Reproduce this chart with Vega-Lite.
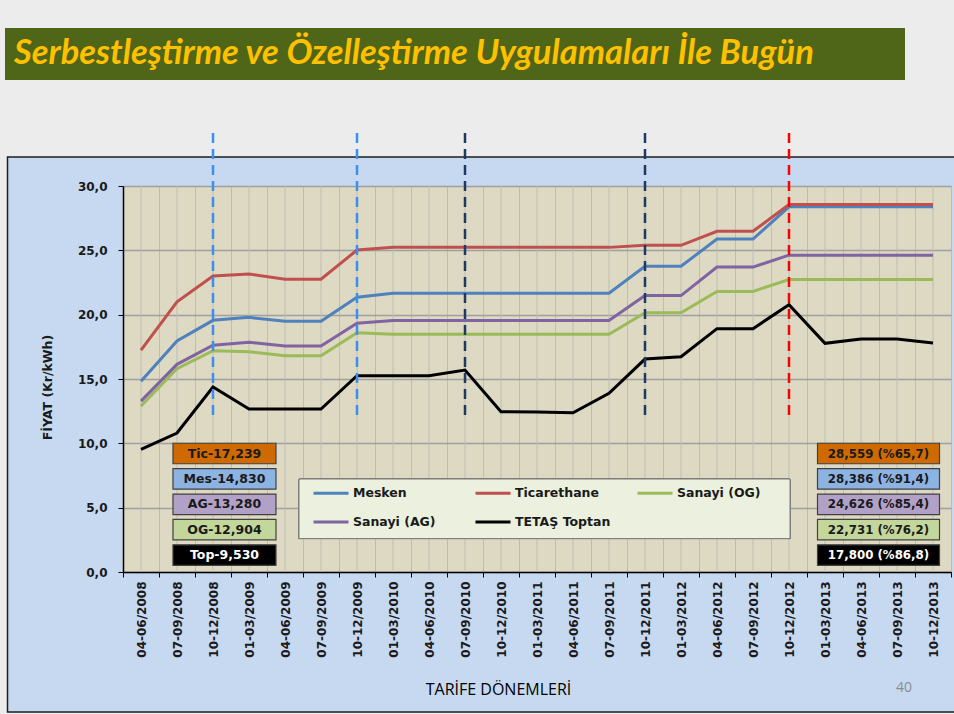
{
  "$schema": "https://vega.github.io/schema/vega-lite/v6.json",
  "width": 828,
  "height": 386,
  "autosize": {"type": "none"},
  "padding": {"left": 123, "top": 186, "right": 3, "bottom": 142},
  "background": "#c6d9f1",
  "config": {
    "view": {"fill": "#ddd9c3", "stroke": "#a6a6a6", "strokeWidth": 1}
  },
  "datasets": {
    "prices": [
      {"period": "04-06/2008", "Mesken": 14.83, "Ticarethane": 17.239, "Sanayi (OG)": 12.904, "Sanayi (AG)": 13.28, "TETAŞ Toptan": 9.53},
      {"period": "07-09/2008", "Mesken": 17.95, "Ticarethane": 21.0, "Sanayi (OG)": 15.8, "Sanayi (AG)": 16.14, "TETAŞ Toptan": 10.8},
      {"period": "10-12/2008", "Mesken": 19.56, "Ticarethane": 23.0, "Sanayi (OG)": 17.2, "Sanayi (AG)": 17.62, "TETAŞ Toptan": 14.38},
      {"period": "01-03/2009", "Mesken": 19.79, "Ticarethane": 23.16, "Sanayi (OG)": 17.12, "Sanayi (AG)": 17.85, "TETAŞ Toptan": 12.67},
      {"period": "04-06/2009", "Mesken": 19.48, "Ticarethane": 22.75, "Sanayi (OG)": 16.81, "Sanayi (AG)": 17.56, "TETAŞ Toptan": 12.67},
      {"period": "07-09/2009", "Mesken": 19.48, "Ticarethane": 22.75, "Sanayi (OG)": 16.81, "Sanayi (AG)": 17.56, "TETAŞ Toptan": 12.67},
      {"period": "10-12/2009", "Mesken": 21.35, "Ticarethane": 25.02, "Sanayi (OG)": 18.6, "Sanayi (AG)": 19.33, "TETAŞ Toptan": 15.26},
      {"period": "01-03/2010", "Mesken": 21.66, "Ticarethane": 25.23, "Sanayi (OG)": 18.47, "Sanayi (AG)": 19.55, "TETAŞ Toptan": 15.26},
      {"period": "04-06/2010", "Mesken": 21.66, "Ticarethane": 25.23, "Sanayi (OG)": 18.47, "Sanayi (AG)": 19.55, "TETAŞ Toptan": 15.26},
      {"period": "07-09/2010", "Mesken": 21.66, "Ticarethane": 25.23, "Sanayi (OG)": 18.47, "Sanayi (AG)": 19.55, "TETAŞ Toptan": 15.7},
      {"period": "10-12/2010", "Mesken": 21.66, "Ticarethane": 25.23, "Sanayi (OG)": 18.47, "Sanayi (AG)": 19.55, "TETAŞ Toptan": 12.46},
      {"period": "01-03/2011", "Mesken": 21.66, "Ticarethane": 25.23, "Sanayi (OG)": 18.47, "Sanayi (AG)": 19.55, "TETAŞ Toptan": 12.44},
      {"period": "04-06/2011", "Mesken": 21.66, "Ticarethane": 25.23, "Sanayi (OG)": 18.47, "Sanayi (AG)": 19.55, "TETAŞ Toptan": 12.38},
      {"period": "07-09/2011", "Mesken": 21.66, "Ticarethane": 25.23, "Sanayi (OG)": 18.47, "Sanayi (AG)": 19.55, "TETAŞ Toptan": 13.89},
      {"period": "10-12/2011", "Mesken": 23.76, "Ticarethane": 25.39, "Sanayi (OG)": 20.15, "Sanayi (AG)": 21.48, "TETAŞ Toptan": 16.55},
      {"period": "01-03/2012", "Mesken": 23.76, "Ticarethane": 25.39, "Sanayi (OG)": 20.15, "Sanayi (AG)": 21.48, "TETAŞ Toptan": 16.73},
      {"period": "04-06/2012", "Mesken": 25.88, "Ticarethane": 26.48, "Sanayi (OG)": 21.81, "Sanayi (AG)": 23.7, "TETAŞ Toptan": 18.91},
      {"period": "07-09/2012", "Mesken": 25.88, "Ticarethane": 26.48, "Sanayi (OG)": 21.81, "Sanayi (AG)": 23.7, "TETAŞ Toptan": 18.91},
      {"period": "10-12/2012", "Mesken": 28.386, "Ticarethane": 28.559, "Sanayi (OG)": 22.731, "Sanayi (AG)": 24.626, "TETAŞ Toptan": 20.78},
      {"period": "01-03/2013", "Mesken": 28.386, "Ticarethane": 28.559, "Sanayi (OG)": 22.731, "Sanayi (AG)": 24.626, "TETAŞ Toptan": 17.77},
      {"period": "04-06/2013", "Mesken": 28.386, "Ticarethane": 28.559, "Sanayi (OG)": 22.731, "Sanayi (AG)": 24.626, "TETAŞ Toptan": 18.11},
      {"period": "07-09/2013", "Mesken": 28.386, "Ticarethane": 28.559, "Sanayi (OG)": 22.731, "Sanayi (AG)": 24.626, "TETAŞ Toptan": 18.11},
      {"period": "10-12/2013", "Mesken": 28.386, "Ticarethane": 28.559, "Sanayi (OG)": 22.731, "Sanayi (AG)": 24.626, "TETAŞ Toptan": 17.8}
    ],
    "dashes": [
      {"period": "10-12/2008", "kind": "a"},
      {"period": "10-12/2009", "kind": "a"},
      {"period": "07-09/2010", "kind": "b"},
      {"period": "10-12/2011", "kind": "b"},
      {"period": "10-12/2012", "kind": "c"}
    ],
    "boxes": [
      {"label": "Tic-17,239", "series": "Ticarethane", "rank": 0, "side": "left"},
      {"label": "Mes-14,830", "series": "Mesken", "rank": 1, "side": "left"},
      {"label": "AG-13,280", "series": "Sanayi (AG)", "rank": 2, "side": "left"},
      {"label": "OG-12,904", "series": "Sanayi (OG)", "rank": 3, "side": "left"},
      {"label": "Top-9,530", "series": "TETAŞ Toptan", "rank": 4, "side": "left"},
      {"label": "28,559 (%65,7)", "series": "Ticarethane", "rank": 0, "side": "right"},
      {"label": "28,386 (%91,4)", "series": "Mesken", "rank": 1, "side": "right"},
      {"label": "24,626 (%85,4)", "series": "Sanayi (AG)", "rank": 2, "side": "right"},
      {"label": "22,731 (%76,2)", "series": "Sanayi (OG)", "rank": 3, "side": "right"},
      {"label": "17,800 (%86,8)", "series": "TETAŞ Toptan", "rank": 4, "side": "right"}
    ],
    "slide": [
      {"title": "Serbestleştirme ve Özelleştirme Uygulamaları İle Bugün", "page": "40"}
    ]
  },
  "layer": [
    {
      "data": {"name": "slide"},
      "layer": [
        {
          "mark": {"type": "rect", "fill": "#ececec"},
          "encoding": {
            "x": {"datum": -4.06, "type": "quantitative", "scale": {"domain": [-0.5, 22.5], "nice": false, "zero": false}, "axis": null},
            "x2": {"datum": 22.75},
            "y": {"datum": 32.254, "type": "quantitative", "scale": {"domain": [0, 30], "nice": false, "zero": false}, "axis": null},
            "y2": {"datum": 44.85}
          }
        },
        {
          "mark": {"type": "rect", "fill": "#ececec"},
          "encoding": {
            "x": {"datum": -4.06, "type": "quantitative", "axis": null},
            "x2": {"datum": -3.694},
            "y": {"datum": 32.254, "type": "quantitative", "axis": null},
            "y2": {"datum": -11.6}
          }
        },
        {
          "mark": {"type": "rect", "fill": "#ececec"},
          "encoding": {
            "x": {"datum": -4.06, "type": "quantitative", "axis": null},
            "x2": {"datum": 23.2},
            "y": {"datum": -10.92, "type": "quantitative", "axis": null},
            "y2": {"datum": -11.6}
          }
        },
        {
          "mark": {"type": "rect", "fillOpacity": 0, "stroke": "#1e1e1e", "strokeWidth": 1.5},
          "encoding": {
            "x": {"datum": -3.708, "type": "quantitative", "axis": null},
            "x2": {"datum": 23.2},
            "y": {"datum": 32.254, "type": "quantitative", "axis": null},
            "y2": {"datum": -10.88}
          }
        },
        {
          "mark": {"type": "rect", "fill": "#4f6518"},
          "encoding": {
            "x": {"datum": -3.778, "type": "quantitative", "axis": null},
            "x2": {"datum": 21.222},
            "y": {"datum": 42.28, "type": "quantitative", "axis": null},
            "y2": {"datum": 38.238}
          }
        },
        {
          "mark": {"type": "text", "font": "Lato", "fontStyle": "italic", "fontWeight": "bold", "fontSize": 34.5, "align": "left", "baseline": "alphabetic", "fill": "#ffc000"},
          "encoding": {
            "x": {"datum": -3.528, "type": "quantitative", "axis": null},
            "y": {"datum": 39.48, "type": "quantitative", "axis": null},
            "text": {"field": "title"}
          }
        },
        {
          "mark": {"type": "text", "font": "Open Sans", "fontSize": 14, "align": "center", "baseline": "alphabetic", "fill": "#8c8c8c"},
          "encoding": {
            "x": {"datum": 21.194, "type": "quantitative", "axis": null},
            "y": {"datum": -9.326, "type": "quantitative", "axis": null},
            "text": {"field": "page"}
          }
        }
      ]
    },
    {
      "layer": [
        {
          "data": {"name": "prices"},
          "mark": {"type": "rule", "stroke": "#bdbdb5", "strokeWidth": 1},
          "encoding": {
            "x": {"field": "period", "type": "ordinal"},
            "y": {"datum": 0, "type": "quantitative"},
            "y2": {"datum": 30}
          }
        },
        {
          "data": {"name": "prices"},
          "transform": [
            {"fold": ["Mesken", "Ticarethane", "Sanayi (OG)", "Sanayi (AG)", "TETAŞ Toptan"], "as": ["series", "value"]}
          ],
          "mark": {"type": "line", "strokeWidth": 3},
          "encoding": {
            "x": {
              "field": "period",
              "type": "ordinal",
              "scale": {
                "domain": ["04-06/2008", "07-09/2008", "10-12/2008", "01-03/2009", "04-06/2009", "07-09/2009", "10-12/2009", "01-03/2010", "04-06/2010", "07-09/2010", "10-12/2010", "01-03/2011", "04-06/2011", "07-09/2011", "10-12/2011", "01-03/2012", "04-06/2012", "07-09/2012", "10-12/2012", "01-03/2013", "04-06/2013", "07-09/2013", "10-12/2013"],
                "type": "band",
                "paddingInner": 0,
                "paddingOuter": 0
              },
              "axis": {
                "title": "TARİFE DÖNEMLERİ",
                "titleFont": "Open Sans",
                "titleFontSize": 16,
                "titleFontWeight": "normal",
                "titleColor": "#000000",
                "titleX": 375,
                "titleY": 117,
                "titleAlign": "center",
                "titleBaseline": "middle",
                "labelAngle": -90,
                "labelFont": "DejaVu Sans",
                "labelFontWeight": "bold",
                "labelFontSize": 12,
                "labelColor": "#1a1a1a",
                "labelPadding": 4,
                "tickBand": "extent",
                "tickSize": 5,
                "tickColor": "#000000",
                "domainColor": "#000000",
                "domainWidth": 1.5,
                "grid": true,
                "gridColor": "#bdbdb5",
                "gridWidth": 1
              }
            },
            "y": {
              "field": "value",
              "type": "quantitative",
              "scale": {"domain": [0, 30], "nice": false, "zero": false},
              "axis": {
                "values": [0, 5, 10, 15, 20, 25, 30],
                "labelExpr": "replace(format(datum.value, '.1f'), '.', ',')",
                "title": "FİYAT (Kr/kWh)",
                "titleFont": "DejaVu Sans",
                "titleFontSize": 12.5,
                "titleFontWeight": "bold",
                "titleColor": "#1a1a1a",
                "titleX": -76,
                "titleY": 201,
                "titleAlign": "center",
                "titleBaseline": "middle",
                "labelFont": "DejaVu Sans",
                "labelFontWeight": "bold",
                "labelFontSize": 12,
                "labelColor": "#1a1a1a",
                "labelPadding": 11,
                "tickSize": 5,
                "tickColor": "#000000",
                "domainColor": "#000000",
                "domainWidth": 1.5,
                "grid": true,
                "gridColor": "#a0a0a0",
                "gridWidth": 1.3
              }
            },
            "color": {
              "field": "series",
              "type": "nominal",
              "scale": {
                "domain": ["Mesken", "Ticarethane", "Sanayi (OG)", "Sanayi (AG)", "TETAŞ Toptan"],
                "range": ["#4f81bd", "#c0504d", "#9bbb59", "#8064a2", "#000000"]
              },
              "legend": {
                "orient": "none",
                "legendX": 189,
                "legendY": 288,
                "direction": "horizontal",
                "columns": 3,
                "title": null,
                "symbolType": "stroke",
                "symbolSize": 1225,
                "symbolStrokeWidth": 3,
                "labelFont": "DejaVu Sans",
                "labelFontWeight": "bold",
                "labelFontSize": 12.5,
                "labelColor": "#1a1a1a",
                "labelOffset": 3,
                "columnPadding": 20,
                "rowPadding": 3,
                "gridAlign": "all",
                "padding": 0
              }
            }
          }
        },
        {
          "data": {"name": "dashes"},
          "mark": {"type": "rule", "strokeWidth": 2.5, "strokeDash": [10, 6]},
          "encoding": {
            "x": {"field": "period", "type": "ordinal"},
            "y": {"datum": 34.12, "type": "quantitative"},
            "y2": {"datum": 11.81},
            "stroke": {
              "field": "kind",
              "type": "nominal",
              "scale": {"domain": ["a", "b", "c"], "range": ["#3b8ff0", "#1f3864", "#ff0000"]},
              "legend": null
            }
          }
        }
      ]
    },
    {
      "data": {"name": "boxes"},
      "layer": [
        {
          "mark": {"type": "rect", "fill": "#ebf1de", "stroke": "#7f7f7f", "strokeWidth": 1},
          "encoding": {
            "x": {"datum": 4.389, "type": "quantitative", "scale": {"domain": [-0.5, 22.5], "nice": false, "zero": false}, "axis": null},
            "x2": {"datum": 18.028},
            "y": {"datum": 1.0045, "type": "quantitative", "scale": {"domain": [-10.531, 4.665], "reverse": true, "nice": false, "zero": false}, "axis": null},
            "y2": {"datum": 3.3471}
          }
        },
        {
          "transform": [{"filter": "datum.side == 'left'"}],
          "mark": {"type": "tick", "orient": "horizontal", "size": 103, "thickness": 20.5, "stroke": "#404040", "strokeWidth": 1.2, "opacity": 1},
          "encoding": {
            "x": {"datum": 2.319, "type": "quantitative", "axis": null},
            "y": {"field": "rank", "type": "quantitative", "axis": null},
            "fill": {
              "field": "series",
              "type": "nominal",
              "scale": {
                "domain": ["Ticarethane", "Mesken", "Sanayi (AG)", "Sanayi (OG)", "TETAŞ Toptan"],
                "range": ["#cf6a02", "#8db3e2", "#b2a1c7", "#c3d69b", "#000000"]
              },
              "legend": null
            }
          }
        },
        {
          "transform": [{"filter": "datum.side == 'right'"}],
          "mark": {"type": "tick", "orient": "horizontal", "size": 122, "thickness": 20.5, "stroke": "#404040", "strokeWidth": 1.2, "opacity": 1},
          "encoding": {
            "x": {"datum": 20.486, "type": "quantitative", "axis": null},
            "y": {"field": "rank", "type": "quantitative", "axis": null},
            "fill": {"field": "series", "type": "nominal", "legend": null}
          }
        },
        {
          "transform": [{"filter": "datum.side == 'left'"}],
          "mark": {"type": "text", "font": "DejaVu Sans", "fontWeight": "bold", "fontSize": 12.5, "align": "center", "baseline": "middle"},
          "encoding": {
            "x": {"datum": 2.319, "type": "quantitative", "axis": null},
            "y": {"field": "rank", "type": "quantitative", "axis": null},
            "text": {"field": "label"},
            "color": {"condition": {"test": "datum.series == 'TETAŞ Toptan'", "value": "#ffffff"}, "value": "#1a1a1a"}
          }
        },
        {
          "transform": [{"filter": "datum.side == 'right'"}],
          "mark": {"type": "text", "font": "DejaVu Sans", "fontWeight": "bold", "fontSize": 11.8, "align": "center", "baseline": "middle"},
          "encoding": {
            "x": {"datum": 20.486, "type": "quantitative", "axis": null},
            "y": {"field": "rank", "type": "quantitative", "axis": null},
            "text": {"field": "label"},
            "color": {"condition": {"test": "datum.series == 'TETAŞ Toptan'", "value": "#ffffff"}, "value": "#1a1a1a"}
          }
        }
      ]
    }
  ],
  "resolve": {"scale": {"x": "independent", "y": "independent"}}
}
